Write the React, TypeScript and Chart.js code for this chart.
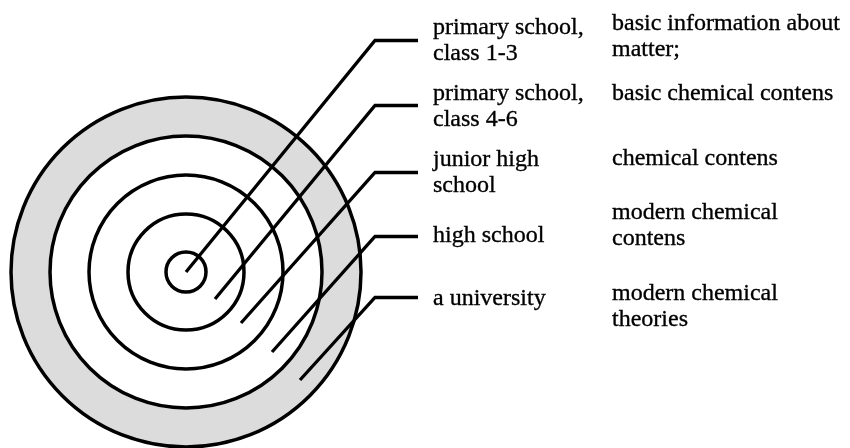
import React, { useEffect, useRef } from "react";
import { Chart, registerables } from "chart.js";

Chart.register(...registerables);

// ---- data (diagram units = pixels; scales are 1:1) ----
const centerX = 186;
const centerY = 272;
const ringRadii = [175, 136, 97, 58, 20];
const ringFills = ["#dcdcdc", "#ffffff", "rgba(0,0,0,0)", "rgba(0,0,0,0)", "rgba(0,0,0,0)"];

const leaderStartX = [186, 215, 241, 272, 300];
const leaderStartY = [272, 299, 323, 352, 380];
const leaderKinkX = 375;
const leaderKinkY = [40.5, 105.5, 172.5, 236.5, 297.5];
const leaderEndX = 418;

const stageLabels = [
  ["primary school,", "class 1-3"],
  ["primary school,", "class 4-6"],
  ["junior high", "school"],
  ["high school"],
  ["a university"],
];
const stageX = 433;
const stageBaselines = [34, 100, 166, 242, 305];

const contentLabels = [
  ["basic information about", "matter;"],
  ["basic chemical contens"],
  ["chemical contens"],
  ["modern chemical", "contens"],
  ["modern chemical", "theories"],
];
const contentX = 612;
const contentBaselines = [30, 100, 165, 219, 300];

const lineHeight = 26;
const FONT = '24px "Liberation Serif", "Times New Roman", serif';

const labelsPlugin = {
  id: "diagramLabels",
  afterDatasetsDraw(chart: any) {
    const { ctx, scales } = chart;
    const xs = scales.x;
    const ys = scales.y;
    ctx.save();
    ctx.font = FONT;
    ctx.fillStyle = "#000";
    ctx.strokeStyle = "#000";
    ctx.lineWidth = 0.35;
    ctx.textBaseline = "alphabetic";
    ctx.textAlign = "left";
    const drawBlock = (lines: string[], x: number, y: number) => {
      lines.forEach((t, i) => {
        const px = xs.getPixelForValue(x);
        const py = ys.getPixelForValue(y + i * lineHeight);
        ctx.fillText(t, px, py);
        ctx.strokeText(t, px, py);
      });
    };
    stageLabels.forEach((l, i) => drawBlock(l, stageX, stageBaselines[i]));
    contentLabels.forEach((l, i) => drawBlock(l, contentX, contentBaselines[i]));
    ctx.restore();
  },
};

export default function App() {
  const ref = useRef<HTMLCanvasElement | null>(null);

  useEffect(() => {
    if (!ref.current) return;
    document.body.style.margin = "0";

    const ringSets: any[] = ringRadii.map((r, i) => ({
      type: "bubble",
      data: [{ x: centerX, y: centerY, r }],
      backgroundColor: ringFills[i],
      borderColor: "#000",
      borderWidth: 3.5,
      hoverBorderWidth: 3.5,
      hoverRadius: 0,
      order: 20 - i,
      clip: false,
    }));

    const leaderSets: any[] = leaderStartX.map((sx, i) => ({
      type: "line",
      data: [
        { x: sx, y: leaderStartY[i] },
        { x: leaderKinkX, y: leaderKinkY[i] },
        { x: leaderEndX, y: leaderKinkY[i] },
      ],
      borderColor: "#000",
      borderWidth: 3.3,
      pointRadius: 0,
      tension: 0,
      fill: false,
      borderCapStyle: "butt",
      borderJoinStyle: "miter",
      order: 1,
      clip: false,
    }));

    const chart = new Chart(ref.current, {
      type: "bubble",
      data: { datasets: [...ringSets, ...leaderSets] },
      options: {
        animation: false,
        responsive: false,
        devicePixelRatio: 1,
        events: [],
        layout: { padding: 0, autoPadding: false } as any,
        plugins: { legend: { display: false }, tooltip: { enabled: false } },
        scales: {
          x: { type: "linear", min: 0, max: 850, display: false },
          y: { type: "linear", min: 0, max: 448, reverse: true, display: false },
        },
      },
      plugins: [labelsPlugin],
    });
    return () => chart.destroy();
  }, []);

  return (
    <div style={{ position: "fixed", left: 0, top: 0, width: 850, height: 448, background: "#fff" }}>
      <canvas ref={ref} width={850} height={448} style={{ display: "block", width: 850, height: 448 }} />
    </div>
  );
}
